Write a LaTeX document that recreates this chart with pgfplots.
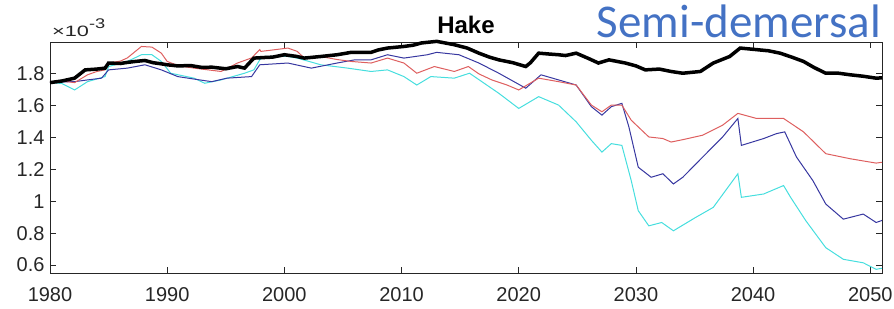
\documentclass[border=0pt]{standalone}
\usepackage{pgfplots}
\pgfplotsset{compat=1.18}
\usepackage{fontspec}
\setmainfont{Liberation Sans}
\newfontfamily\calibri{Carlito}
\definecolor{axgray}{RGB}{38,38,38}
\definecolor{sred}{RGB}{222,95,95}
\definecolor{sblue}{RGB}{55,55,160}
\definecolor{scyan}{RGB}{70,222,222}
\definecolor{semiblue}{RGB}{68,114,196}
\begin{document}
\begin{tikzpicture}
\useasboundingbox (-50pt,-35pt) rectangle (844pt,273pt);
\begin{axis}[
  at={(0,0)}, anchor=south west,
  scale only axis, width=832pt, height=231pt,
  xmin=1980, xmax=2051, ymin=0.55, ymax=2.0,
  xtick={1980,1990,...,2050},
  ytick={0.6,0.8,1,1.2,1.4,1.6,1.8},
  yticklabels={0.6,0.8,1,1.2,1.4,1.6,1.8},
  xticklabels={1980,1990,2000,2010,2020,2030,2040,2050},
  tick align=inside,
  major tick length=6pt,
  axis line style={axgray, line width=0.8pt},
  every tick/.style={axgray, line width=0.8pt},
  tick label style={font=\fontsize{20}{22}\selectfont, text=axgray},
  /pgf/number format/assume math mode=true,
  xticklabel style={yshift=-11pt},
  yticklabel style={xshift=-2pt},
  clip=false,
]
\addplot[scyan, line width=1pt] coordinates {
(1980.0,1.745)(1981.0,1.740)(1982.1,1.699)(1983.2,1.751)(1984.7,1.783)(1985.0,1.846)
(1986.6,1.878)(1987.8,1.920)(1988.7,1.920)(1989.5,1.878)(1990.3,1.804)(1992.3,1.773)
(1993.2,1.741)(1994.6,1.762)(1996.6,1.804)(1997.4,1.825)(1997.9,1.888)(1998.3,1.909)
(2000.3,1.909)(2001.1,1.899)(2003.1,1.857)(2005.4,1.836)(2007.4,1.815)(2008.8,1.825)
(2010.2,1.783)(2011.3,1.730)(2012.5,1.783)(2014.5,1.773)(2015.8,1.804)(2018.3,1.678)
(2020.0,1.583)(2021.7,1.657)(2023.4,1.604)(2024.9,1.499)(2026.2,1.383)(2027.1,1.309)
(2027.9,1.362)(2028.8,1.351)(2029.6,1.130)(2030.2,0.941)(2031.1,0.846)(2032.2,0.867)
(2033.2,0.815)(2035.1,0.899)(2036.6,0.962)(2038.7,1.173)(2039.0,1.025)(2040.9,1.046)
(2042.6,1.099)(2043.2,1.025)(2044.5,0.878)(2046.2,0.709)(2047.7,0.636)(2049.4,0.614)
(2050.5,0.573)(2051.0,0.580)
};
\addplot[sblue, line width=1pt] coordinates {
(1980.0,1.745)(1981.0,1.750)(1982.1,1.751)(1983.2,1.762)(1984.4,1.773)(1985.0,1.825)
(1986.6,1.836)(1988.1,1.857)(1989.5,1.825)(1990.9,1.783)(1992.5,1.765)(1993.8,1.751)
(1995.1,1.773)(1997.2,1.783)(1997.4,1.804)(1997.9,1.857)(2000.3,1.868)(2002.3,1.836)
(2004.5,1.868)(2006.0,1.888)(2007.4,1.888)(2008.8,1.920)(2010.2,1.899)(2012.2,1.920)
(2013.0,1.935)(2014.9,1.920)(2016.6,1.868)(2018.3,1.804)(2020.6,1.710)(2021.9,1.794)
(2023.4,1.762)(2024.9,1.730)(2026.2,1.594)(2027.1,1.541)(2027.9,1.594)(2028.8,1.615)
(2029.4,1.467)(2030.2,1.214)(2031.3,1.151)(2032.3,1.173)(2033.2,1.109)(2034.0,1.151)
(2035.7,1.278)(2037.4,1.404)(2038.7,1.520)(2039.0,1.351)(2040.9,1.394)(2042.0,1.425)
(2042.7,1.436)(2043.7,1.278)(2045.1,1.130)(2046.2,0.983)(2047.7,0.888)(2049.4,0.920)
(2050.5,0.867)(2051.0,0.880)
};
\addplot[sred, line width=1pt] coordinates {
(1980.0,1.745)(1981.0,1.755)(1982.1,1.745)(1983.2,1.794)(1984.0,1.815)(1984.7,1.825)
(1985.0,1.868)(1986.0,1.880)(1986.6,1.900)(1987.8,1.972)(1988.7,1.968)(1989.5,1.930)
(1990.0,1.878)(1991.0,1.850)(1992.3,1.836)(1993.5,1.825)(1994.6,1.815)(1996.0,1.868)
(1997.2,1.900)(1997.9,1.952)(1998.0,1.941)(1999.0,1.950)(2000.3,1.962)(2001.1,1.941)
(2001.7,1.899)(2003.1,1.909)(2004.5,1.890)(2005.7,1.878)(2007.4,1.868)(2008.8,1.899)
(2010.2,1.868)(2011.3,1.804)(2012.8,1.846)(2014.5,1.815)(2015.7,1.846)(2016.6,1.800)
(2017.7,1.762)(2019.0,1.730)(2020.0,1.699)(2021.7,1.773)(2023.4,1.751)(2024.9,1.730)
(2026.2,1.604)(2027.1,1.562)(2027.9,1.604)(2028.8,1.604)(2029.6,1.509)(2031.1,1.404)
(2032.3,1.394)(2033.0,1.372)(2034.0,1.387)(2035.7,1.415)(2037.4,1.478)(2038.7,1.552)
(2040.3,1.520)(2042.6,1.520)(2044.3,1.436)(2046.2,1.299)(2048.3,1.267)(2050.5,1.240)
(2051.0,1.245)
};
\addplot[black, line width=3.5pt] coordinates {
(1980.0,1.745)(1981.0,1.755)(1982.1,1.773)(1983.0,1.825)(1984.0,1.830)(1984.7,1.836)
(1985.0,1.868)(1986.0,1.865)(1986.6,1.872)(1987.3,1.878)(1988.1,1.884)(1988.8,1.870)
(1989.5,1.863)(1990.0,1.857)(1990.9,1.850)(1992.0,1.852)(1993.0,1.840)(1993.8,1.842)
(1995.0,1.832)(1996.0,1.846)(1996.6,1.836)(1997.4,1.899)(1998.4,1.903)(1999.0,1.905)
(2000.0,1.920)(2001.0,1.910)(2001.7,1.899)(2003.1,1.909)(2004.5,1.920)(2005.7,1.935)
(2007.4,1.935)(2008.0,1.950)(2008.8,1.962)(2010.2,1.972)(2011.0,1.980)(2011.7,1.994)
(2013.0,2.004)(2014.0,1.990)(2014.5,1.983)(2015.6,1.962)(2016.6,1.930)(2017.5,1.905)
(2018.3,1.888)(2019.5,1.870)(2020.6,1.846)(2021.0,1.870)(2021.7,1.930)(2022.5,1.925)
(2023.4,1.920)(2024.0,1.915)(2024.9,1.930)(2026.0,1.895)(2026.8,1.868)(2027.7,1.888)
(2029.1,1.868)(2030.0,1.850)(2030.8,1.825)(2032.0,1.830)(2033.0,1.815)(2034.0,1.804)
(2035.5,1.815)(2036.6,1.868)(2038.0,1.909)(2038.9,1.962)(2040.3,1.952)(2041.3,1.945)
(2042.3,1.930)(2043.3,1.905)(2044.3,1.878)(2045.2,1.840)(2046.2,1.804)(2047.2,1.805)
(2048.3,1.794)(2049.4,1.785)(2050.5,1.773)(2051.0,1.775)
};
\node[anchor=base, font=\bfseries\fontsize{24}{26}\selectfont] at (rel axis cs:0.5,1) [yshift=9pt] {Hake};
\node[anchor=base west, inner sep=0pt, text=axgray] at (rel axis cs:0,1) [yshift=6pt, xshift=2pt] {\scalebox{1.45}[1]{\fontsize{15}{17}\selectfont ×10}\raisebox{8pt}{\scalebox{1.3}[1]{\fontsize{14}{16}\selectfont -3}}};
\node[anchor=base east, inner sep=0pt, text=semiblue, font=\calibri\fontsize{47}{50}\selectfont] at (rel axis cs:1,1) [yshift=5pt, xshift=-1pt] {Semi-demersal};
\end{axis}
\end{tikzpicture}
\end{document}
